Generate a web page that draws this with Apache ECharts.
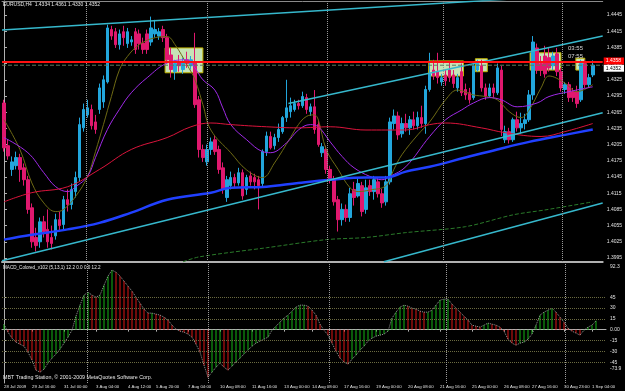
<!DOCTYPE html>
<html><head><meta charset="utf-8">
<script src="https://cdn.jsdelivr.net/npm/echarts@6/dist/echarts.min.js"></script>
<style>html,body{margin:0;padding:0;background:#000;}#c{width:625px;height:391px;}</style>
</head><body><div id="c"></div>
<script>
// ---- price bars (EURUSD H4) ----
const opens=[1.4282,1.4203,1.4159,1.4166,1.4181,1.4162,1.4140,1.4088,1.4033,1.4025,
1.4062,1.4048,1.4033,1.4036,1.4066,1.4057,1.4103,1.4094,1.4118,1.4144,
1.4236,1.4260,1.4270,1.4247,1.4270,1.4284,1.4321,1.4418,1.4414,1.4390,
1.4414,1.4392,1.4395,1.4414,1.4410,1.4393,1.4410,1.4395,1.4410,1.4406,
1.4418,1.4403,1.4371,1.4340,1.4358,1.4344,1.4362,1.4351,1.4358,1.4288,
1.4196,1.4173,1.4196,1.4214,1.4196,1.4162,1.4107,1.4129,1.4144,1.4134,
1.4153,1.4122,1.4147,1.4144,1.4140,1.4133,1.4192,1.4220,1.4203,1.4218,
1.4229,1.4255,1.4266,1.4270,1.4281,1.4277,1.4292,1.4266,1.4275,1.4242,
1.4190,1.4196,1.4159,1.4140,1.4103,1.4066,1.4085,1.4070,1.4122,1.4110,
1.4129,1.4085,1.4129,1.4118,1.4136,1.4114,1.4099,1.4136,1.4244,1.4258,
1.4225,1.4244,1.4236,1.4251,1.4240,1.4255,1.4244,1.4307,1.4343,1.4340,
1.4321,1.4334,1.4343,1.4334,1.4310,1.4340,1.4307,1.4301,1.4292,1.4343,
1.4351,1.4310,1.4295,1.4310,1.4301,1.4343,1.4214,1.4229,1.4214,1.4251,
1.4236,1.4244,1.4251,1.4297,1.4384,1.4355,1.4369,1.4366,1.4351,1.4373,
1.4340,1.4307,1.4316,1.4303,1.4303,1.4288,1.4355,1.4316,1.4334];
const highs=[1.4288,1.4214,1.4183,1.4192,1.4188,1.4170,1.4147,1.4096,1.4051,1.4070,
1.4073,1.4085,1.4055,1.4077,1.4081,1.4110,1.4122,1.4133,1.4155,1.4255,
1.4281,1.4288,1.4279,1.4260,1.4318,1.4333,1.4427,1.4425,1.4421,1.4418,
1.4425,1.4421,1.4406,1.4421,1.4418,1.4403,1.4418,1.4442,1.4436,1.4421,
1.4425,1.4410,1.4384,1.4362,1.4371,1.4366,1.4377,1.4369,1.4412,1.4295,
1.4205,1.4205,1.4218,1.4221,1.4203,1.4172,1.4147,1.4155,1.4151,1.4162,
1.4159,1.4149,1.4155,1.4151,1.4147,1.4196,1.4229,1.4229,1.4225,1.4244,
1.4258,1.4325,1.4292,1.4288,1.4288,1.4303,1.4299,1.4281,1.4306,1.4251,
1.4208,1.4203,1.4166,1.4147,1.4110,1.4096,1.4094,1.4125,1.4136,1.4144,
1.4136,1.4140,1.4140,1.4147,1.4144,1.4123,1.4147,1.4255,1.4270,1.4266,
1.4255,1.4262,1.4258,1.4266,1.4266,1.4277,1.4314,1.4375,1.4362,1.4375,
1.4336,1.4343,1.4358,1.4343,1.4336,1.4355,1.4318,1.4310,1.4358,1.4362,
1.4362,1.4318,1.4318,1.4318,1.4355,1.4351,1.4240,1.4236,1.4255,1.4266,
1.4264,1.4262,1.4306,1.4406,1.4392,1.4369,1.4388,1.4384,1.4377,1.4384,
1.4347,1.4321,1.4321,1.4310,1.4314,1.4362,1.4362,1.4336,1.4361];
const lows=[1.4192,1.4177,1.4147,1.4159,1.4136,1.4129,1.4077,1.4014,1.4007,1.4014,
1.4033,1.4014,1.4011,1.4029,1.4044,1.4048,1.4081,1.4085,1.4107,1.4136,
1.4229,1.4255,1.4233,1.4225,1.4262,1.4273,1.4318,1.4399,1.4384,1.4381,
1.4388,1.4384,1.4388,1.4373,1.4381,1.4373,1.4373,1.4388,1.4403,1.4399,
1.4395,1.4355,1.4329,1.4325,1.4340,1.4336,1.4347,1.4344,1.4273,1.4181,
1.4173,1.4166,1.4186,1.4186,1.4151,1.4114,1.4099,1.4122,1.4125,1.4129,
1.4103,1.4112,1.4129,1.4122,1.4085,1.4125,1.4184,1.4196,1.4196,1.4210,
1.4225,1.4247,1.4255,1.4266,1.4270,1.4273,1.4262,1.4258,1.4225,1.4201,
1.4182,1.4151,1.4133,1.4092,1.4044,1.4055,1.4062,1.4062,1.4092,1.4107,
1.4072,1.4077,1.4110,1.4103,1.4107,1.4088,1.4092,1.4131,1.4233,1.4214,
1.4218,1.4229,1.4223,1.4233,1.4233,1.4236,1.4225,1.4303,1.4325,1.4318,
1.4314,1.4314,1.4321,1.4310,1.4303,1.4295,1.4288,1.4281,1.4288,1.4340,
1.4303,1.4288,1.4292,1.4292,1.4297,1.4221,1.4208,1.4207,1.4210,1.4229,
1.4225,1.4233,1.4247,1.4288,1.4336,1.4332,1.4329,1.4340,1.4343,1.4332,
1.4303,1.4299,1.4284,1.4284,1.4273,1.4284,1.4310,1.4310,1.4330];
const closes=[1.4199,1.4184,1.4173,1.4181,1.4159,1.4140,1.4085,1.4025,1.4018,1.4062,
1.4044,1.4025,1.4022,1.4066,1.4055,1.4103,1.4094,1.4122,1.4144,1.4242,
1.4270,1.4273,1.4240,1.4233,1.4310,1.4325,1.4421,1.4406,1.4390,1.4410,
1.4403,1.4414,1.4399,1.4381,1.4392,1.4381,1.4381,1.4421,1.4418,1.4414,
1.4403,1.4362,1.4344,1.4355,1.4351,1.4358,1.4355,1.4362,1.4279,1.4196,
1.4181,1.4196,1.4210,1.4192,1.4159,1.4122,1.4140,1.4144,1.4134,1.4153,
1.4110,1.4144,1.4136,1.4136,1.4129,1.4192,1.4221,1.4199,1.4218,1.4233,
1.4255,1.4273,1.4277,1.4281,1.4277,1.4294,1.4270,1.4275,1.4233,1.4205,
1.4201,1.4159,1.4140,1.4099,1.4066,1.4085,1.4070,1.4114,1.4107,1.4133,
1.4081,1.4125,1.4118,1.4140,1.4114,1.4097,1.4136,1.4247,1.4258,1.4223,
1.4244,1.4236,1.4251,1.4240,1.4255,1.4244,1.4307,1.4336,1.4332,1.4329,
1.4329,1.4323,1.4329,1.4318,1.4329,1.4301,1.4297,1.4288,1.4351,1.4355,
1.4310,1.4295,1.4310,1.4301,1.4347,1.4233,1.4229,1.4214,1.4251,1.4236,
1.4244,1.4251,1.4297,1.4395,1.4343,1.4343,1.4336,1.4347,1.4369,1.4340,
1.4310,1.4316,1.4292,1.4292,1.4281,1.4355,1.4316,1.4329,1.4352];

// ---- MACD (5,13,1) ----
const macd=[7.6,-3.5,-11.8,-17.3,-20.1,-22.9,-31.2,-42.2,-56.1,-58.9,
-54.7,-46.4,-39.5,-33.9,-27.0,-18.7,-10.4,-0.7,18.7,33.9,
47.8,51.9,47.8,45.0,47.8,61.6,74.1,82.4,79.6,74.1,
67.2,60.2,53.3,45.0,36.7,28.4,22.9,22.9,21.5,20.1,
17.3,13.2,6.2,0.7,-2.1,-3.5,-6.2,-10.4,-20.1,-31.2,
-49.2,-65.8,-58.9,-52.0,-46.4,-52.0,-56.1,-50.6,-45.0,-39.5,
-33.9,-28.4,-22.9,-18.7,-15.9,-13.2,-10.4,-0.7,4.8,10.4,
15.9,20.1,25.6,31.2,33.9,33.9,32.5,27.0,20.1,7.6,
-0.7,-7.6,-18.7,-29.8,-39.5,-45.0,-47.8,-40.9,-35.3,-28.4,
-22.9,-15.9,-11.8,-9.0,-7.6,-6.2,-2.1,15.9,24.2,31.2,
33.9,32.5,29.8,28.4,25.6,24.2,24.2,27.0,33.9,40.9,
42.2,42.2,35.3,29.8,24.2,18.7,13.2,6.2,4.8,3.5,
6.2,9.0,7.6,6.2,3.5,-2.1,-13.2,-18.7,-21.5,-18.7,
-17.3,-13.2,-6.2,6.2,20.1,24.2,27.0,29.8,24.2,17.3,
10.4,2.1,-2.1,-4.8,-7.6,-0.7,3.5,6.2,12.2];

// ---- moving averages, read at bar indices [bar, price] ----
const maFast=[[0,1.4251],[4,1.4196],[7,1.4134],[10,1.4097],[13,1.4081],[15,1.4085],[18,1.4109],[21,1.4146],[23,1.4192],[25,1.4242],[27,1.4294],[29,1.4343],[31,1.4368],[34,1.4390],[38,1.4403],[41,1.4405],[43,1.4390],[46,1.4353],[48,1.4325],[50,1.4279],[52,1.4232],[57,1.4190],[61,1.4158],[65,1.4144],[68,1.4171],[72,1.4218],[74,1.4242],[76,1.4257],[78,1.4260],[79,1.4251],[81,1.4196],[84,1.4159],[87,1.4125],[89,1.4118],[92,1.4121],[96,1.4129],[98,1.4159],[100,1.4186],[104,1.4223],[107,1.4247],[111,1.4288],[114,1.4306],[118,1.4297],[121,1.4294],[124,1.4288],[127,1.4266],[130,1.4255],[132,1.4269],[135,1.4310],[137,1.4332],[141,1.4319],[144,1.4303],[148,1.4316]];
const maMid=[[0,1.4218],[6,1.4190],[10,1.4153],[13,1.4127],[16,1.4118],[18,1.4127],[21,1.4146],[23,1.4181],[26,1.4233],[29,1.4270],[32,1.4301],[36,1.4329],[41,1.4356],[46,1.4362],[48,1.4347],[50,1.4325],[53,1.4306],[55,1.4273],[57,1.4242],[61,1.4214],[65,1.4192],[67,1.4190],[71,1.4208],[74,1.4232],[77,1.4242],[79,1.4238],[82,1.4210],[85,1.4183],[88,1.4162],[92,1.4146],[95,1.4140],[97,1.4146],[101,1.4164],[107,1.4220],[111,1.4251],[115,1.4269],[118,1.4282],[122,1.4292],[125,1.4288],[129,1.4275],[134,1.4282],[137,1.4294],[142,1.4303],[148,1.4312]];
const maSlow=[[0,1.4099],[7,1.4116],[16,1.4127],[24,1.4159],[32,1.4196],[41,1.4218],[47,1.4238],[52,1.4245],[57,1.4242],[66,1.4238],[74,1.4236],[82,1.4238],[91,1.4232],[101,1.4232],[107,1.4242],[111,1.4245],[120,1.4236],[126,1.4227],[135,1.4220],[141,1.4229],[148,1.4244]];
const maLong=[[0,1.4029],[7,1.4038],[16,1.4048],[24,1.4060],[32,1.4079],[41,1.4103],[52,1.4116],[57,1.4125],[66,1.4127],[74,1.4134],[82,1.4140],[91,1.4144],[96,1.4144],[101,1.4155],[107,1.4164],[116,1.4181],[124,1.4196],[132,1.4210],[141,1.4223],[148,1.4233]];
const maVeryLong=[[45,1.3988],[49,1.3997],[66,1.4014],[81,1.4029],[91,1.4033],[101,1.4042],[116,1.4053],[128,1.4075],[136,1.4084],[148,1.4099]];

// ---- drawn objects ----
const trendLines=[
  [[-0.5,1.4417],[150.5,1.4485]],
  [[71.5,1.4281],[150.5,1.4406]],
  [[-0.5,1.3990],[150.5,1.4264]],
  [[95.5,1.3988],[150.5,1.4097]]
];
const sessionBoxes=[[40.5,50,1.4384,1.4338],[106.75,115.5,1.4360,1.4332],[118.5,121.5,1.4364,1.4340],[132.25,140,1.4375,1.4343],[143.75,146,1.4365,1.4343]];
const weekLines=[20.75,51,81.25,110.5,140.25];
const hLine=1.4358, bidPrice=1.4352;

// ---- axis labels ----
const priceTicks=[1.3995,1.4025,1.4055,1.4085,1.4115,1.4145,1.4175,1.4205,1.4235,1.4265,1.4295,1.4325,1.4355,1.4385,1.4415,1.4445];
const macdTicks=[45,30,15,0,-15,-30,-45];
const timeLabels=[[0,'28 Jul 2009'],[7,'29 Jul 16:00'],[15,'31 Jul 00:00'],[23,'3 Aug 04:00'],[31,'4 Aug 12:00'],[38,'5 Aug 20:00'],[46,'7 Aug 04:00'],[54,'10 Aug 08:00'],[62,'11 Aug 16:00'],[70,'13 Aug 00:00'],[77,'14 Aug 08:00'],[85,'17 Aug 16:00'],[93,'19 Aug 00:00'],[101,'20 Aug 08:00'],[109,'21 Aug 16:00'],[117,'25 Aug 00:00'],[125,'26 Aug 08:00'],[132,'27 Aug 16:00'],[140,'30 Aug 23:00'],[147,'1 Sep 04:00']];

const slots=closes.length+2;
const cats=Array.from({length:slots},(_,i)=>String(i));
const candleData=closes.map((c,i)=>[opens[i],c,lows[i],highs[i]]);
const labelMap=Object.fromEntries(timeLabels);
const FONT='Liberation Sans';
const NARROW='"Liberation Sans Narrow","Liberation Sans",sans-serif';
const GRAY='#b0b0b0';
const xMin=-0.5, xMax=slots-0.5;

const chart=echarts.init(document.getElementById('c'),null,{renderer:'canvas',width:625,height:391});
const lineS=(data,color,width,type,smooth)=>({type:'line',xAxisIndex:2,yAxisIndex:0,data,showSymbol:false,symbol:'none',smooth:smooth||0,silent:true,z:4,lineStyle:{color,width,type:type||'solid'}});
const priceLine=(price,color,width,type,bg,fg,z,dy)=>({type:'line',xAxisIndex:2,yAxisIndex:0,data:[[xMin,price],[xMax,price]],showSymbol:false,symbol:'none',silent:true,z,
  lineStyle:{color,width,type},
  endLabel:{show:true,formatter:price.toFixed(4),backgroundColor:bg,color:fg,fontSize:5,fontFamily:FONT,padding:[1,3,1,2],distance:1,offset:[0,dy]}});

const option={
  animation:false,
  backgroundColor:'#000000',
  grid:[{left:2,right:19,top:1,height:261},{left:2,right:19,top:263,height:120}],
  xAxis:[
    {type:'category',gridIndex:0,data:cats,boundaryGap:true,axisLine:{show:true,lineStyle:{color:GRAY,width:2}},axisTick:{show:false},axisLabel:{show:false},splitLine:{show:false}},
    {type:'category',gridIndex:1,data:cats,boundaryGap:true,axisLine:{show:true,lineStyle:{color:GRAY}},
      axisTick:{show:true,alignWithLabel:true,length:2,interval:(i)=>labelMap[i]!==undefined,lineStyle:{color:GRAY}},
      axisLabel:{show:true,interval:(i)=>labelMap[i]!==undefined,formatter:(v,i)=>labelMap[i]||'',align:'left',color:'#e0e0e0',fontSize:4.3,fontFamily:NARROW,margin:2},splitLine:{show:false}},
    {type:'value',gridIndex:0,min:xMin,max:xMax,position:'top',axisLine:{show:true,onZero:false,lineStyle:{color:'#8a8a8a'}},axisTick:{show:false},axisLabel:{show:false},splitLine:{show:false}},
    {type:'value',gridIndex:1,min:xMin,max:xMax,show:false}
  ],
  yAxis:[
    {type:'value',gridIndex:0,position:'right',min:1.39876,max:1.44709,
      axisLine:{show:true,lineStyle:{color:GRAY}},
      axisTick:{show:true,customValues:priceTicks,length:3,lineStyle:{color:GRAY}},
      axisLabel:{customValues:priceTicks,formatter:v=>v.toFixed(4),color:'#e0e0e0',fontSize:5,fontFamily:FONT,margin:4},
      splitLine:{show:false}},
    {type:'value',gridIndex:1,position:'right',min:-73.9,max:92.3,
      axisLine:{show:true,lineStyle:{color:GRAY}},
      axisTick:{show:true,customValues:macdTicks,length:3,lineStyle:{color:GRAY}},
      axisLabel:{customValues:macdTicks,formatter:v=>v===0?'0.00':String(v),color:'#e0e0e0',fontSize:5,fontFamily:FONT,margin:4},
      splitLine:{show:false}}
  ],
  series:[
    {type:'line',xAxisIndex:2,yAxisIndex:0,data:[[-100,1.42]],showSymbol:false,silent:true,z:1,lineStyle:{opacity:0},
      markArea:{silent:true,itemStyle:{color:'#c6e4b6',borderColor:'#c2b400',borderWidth:1},
        data:sessionBoxes.map(b=>[{xAxis:b[0],yAxis:b[2]},{xAxis:b[1],yAxis:b[3]}])},
      markLine:{silent:true,symbol:'none',label:{show:false},lineStyle:{color:'#9a9a9a',type:'dotted',width:1},data:weekLines.map(v=>({xAxis:v}))}},
    {type:'candlestick',xAxisIndex:0,yAxisIndex:0,data:candleData,barWidth:3,z:3,silent:true,
      itemStyle:{color:'#22a6dc',color0:'#e0186e',borderColor:'#22a6dc',borderColor0:'#e0186e',borderWidth:1}},
    lineS(maFast,'#6e6a14',1,'solid',0.4),
    lineS(maMid,'#a02ae8',1,'solid',0.4),
    lineS(maSlow,'#dc143c',1,'solid',0.4),
    lineS(maLong,'#2040ff',2.5,'solid',0.4),
    lineS(maVeryLong,'#2a7a2a',1,'dashed',0.3),
    ...trendLines.map(t=>lineS(t,'#36b8cc',1.5)),
    priceLine(bidPrice,'#5e7a5e',1,'dashed','#ffffff','#000000',6,3),
    priceLine(hLine,'#ff1010',2,'solid','#ff0000','#ffffff',7,-1),
    {type:'bar',xAxisIndex:1,yAxisIndex:1,data:macd,barWidth:1,silent:true,z:2,
      itemStyle:{color:p=>{const i=p.dataIndex;const prev=i>0?macd[i-1]:macd[i];return macd[i]>=prev?'#14b414':'#dc1414';}}},
    {type:'line',xAxisIndex:1,yAxisIndex:1,data:macd,showSymbol:false,symbol:'none',silent:true,z:3,lineStyle:{color:'#9a9a9a',type:'dotted',width:1},
      markLine:{silent:true,symbol:'none',label:{show:false},lineStyle:{color:'#6a6a40',type:'dotted',width:1},data:[45,30,15,-15,-30,-45].map(v=>({yAxis:v}))}},
    {type:'line',xAxisIndex:3,yAxisIndex:1,data:[[-100,0]],showSymbol:false,silent:true,z:1,lineStyle:{opacity:0},
      markLine:{silent:true,symbol:'none',label:{show:false},lineStyle:{color:'#9a9a9a',type:'dotted',width:1},data:weekLines.map(v=>({xAxis:v}))}}
  ],
  graphic:[
    {type:'text',left:3,top:2,z:100,style:{text:'EURUSD,H4  1.4334 1.4361 1.4330 1.4352',fill:'#e8e8e8',fontSize:5,fontFamily:FONT}},
    {type:'text',left:3,top:265,z:100,style:{text:'MACD_Colored_v102 (5,13,1) 12.2 0.0 0.0 12.2',fill:'#e8e8e8',fontSize:4.6,fontFamily:FONT}},
    {type:'text',left:3,top:375,z:100,style:{text:'MBT Trading Station, © 2001-2009 MetaQuotes Software Corp.',fill:'#e8e8e8',fontSize:5.3,fontFamily:FONT}},
    {type:'text',left:568,top:45,z:100,style:{text:'03:55',fill:'#d8d8d8',fontSize:6,fontFamily:FONT}},
    {type:'text',left:568,top:53,z:100,style:{text:'07:55',fill:'#d8d8d8',fontSize:6,fontFamily:FONT}},
    {type:'text',left:610,top:264,z:100,style:{text:'92.3',fill:'#e0e0e0',fontSize:5,fontFamily:FONT}},
    {type:'text',left:610,top:366,z:100,style:{text:'-73.9',fill:'#e0e0e0',fontSize:5,fontFamily:FONT}}
  ]
};
chart.setOption(option);
</script>
</body></html>
